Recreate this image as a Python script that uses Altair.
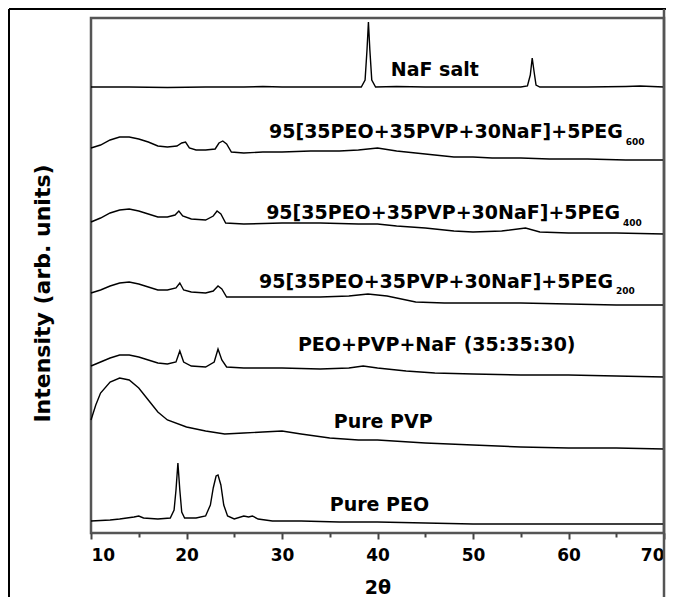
import altair as alt
import pandas as pd

# ---------------- data (2theta, intensity a.u.) ----------------
naf_x = [10, 14, 18, 22, 26, 28, 30, 34, 38.3, 38.7, 38.9, 39.05, 39.2, 39.4, 39.8, 42, 45, 50, 55, 55.7, 56.0, 56.2, 56.4, 56.6, 57, 62, 66, 67.5, 70]
naf_y = [446, 446, 445.5, 446, 446, 446.5, 446, 446, 446, 453, 483, 511, 483, 453, 446, 446.5, 446, 446, 446, 447, 458, 475, 461, 448, 446, 446, 446.5, 447, 446]

p600_x = [10, 11, 12, 13, 14, 15, 16, 17, 18, 19, 19.5, 19.9, 20.3, 21, 22, 23, 23.4, 23.8, 24.2, 24.7, 26, 28, 30, 33, 36, 38, 40, 42, 44, 46, 48, 50, 52, 55, 58, 62, 66, 70]
p600_y = [385, 388, 393, 396, 396, 394, 391, 387, 386, 387, 390, 391, 385, 383, 383, 384, 390, 392, 389, 381, 380, 381, 381, 382, 382, 383, 385, 382, 380, 378, 376, 376, 375, 375, 374, 374, 373, 373]

p400_x = [10, 11, 12, 13, 14, 15, 16, 17, 18, 18.8, 19.2, 19.6, 20.5, 22, 22.8, 23.2, 23.6, 24.1, 26, 30, 34, 38, 40, 42, 45, 48, 50, 53, 55.5, 57, 60, 65, 70]
p400_y = [311, 315, 320, 323, 324, 322, 319, 316, 316, 318, 322, 317, 314, 313, 317, 322, 319, 310, 309, 310, 310, 309, 309, 307, 305, 302, 301, 302, 305, 301, 300, 300, 299]

p200_x = [10, 11, 12, 13, 14, 15, 16, 17, 18, 18.9, 19.3, 19.7, 20.5, 22, 22.8, 23.3, 23.7, 24.2, 26, 30, 34, 37, 39, 41, 44, 47, 50, 55, 60, 65, 70]
p200_y = [240, 243, 247, 250, 251, 249, 246, 243, 243, 245, 250, 243, 241, 240, 242, 247, 244, 236, 236, 236, 236, 237, 239, 237, 231, 230, 230, 230, 229, 228, 228]

blend_x = [10, 11, 12, 13, 14, 15, 16, 17, 18, 18.9, 19.3, 19.7, 20.5, 22, 22.9, 23.3, 23.7, 24.2, 26, 30, 34, 37, 38.5, 40, 43, 46, 50, 55, 60, 65, 70]
blend_y = [167, 171, 175, 178, 178, 176, 173, 170, 169, 171, 182, 171, 167, 166, 171, 184, 173, 166, 165, 165, 164, 165, 167, 165, 162, 160, 159, 158, 158, 157, 156]

pvp_x = [10, 10.5, 11, 12, 13, 14, 15, 16, 17, 18, 20, 22, 24, 26, 28, 30, 32, 35, 38, 40, 45, 50, 55, 60, 65, 70]
pvp_y = [113, 128, 140, 151, 155, 153, 145, 133, 121, 113, 106, 102, 99, 100, 101, 102, 99, 95, 93, 93, 90, 88, 86, 85, 85, 84]

peo_x = [10, 12, 13, 14.5, 15, 15.5, 17, 18.3, 18.7, 18.9, 19.1, 19.3, 19.5, 19.8, 21, 22, 22.5, 22.8, 23.1, 23.3, 23.6, 23.9, 24.3, 25, 26, 26.5, 26.9, 27.5, 29, 32, 36, 40, 45, 50, 55, 60, 65, 70]
peo_y = [12, 13, 14, 16, 17, 15, 14, 15, 23, 43, 70, 43, 21, 15, 15, 17, 28, 45, 57, 58, 48, 28, 17, 14, 17, 16, 17, 14, 12, 12, 11, 11, 10, 9, 9, 9, 9, 9]

series = [
    ("NaF salt", naf_x, naf_y),
    ("PEG600", p600_x, p600_y),
    ("PEG400", p400_x, p400_y),
    ("PEG200", p200_x, p200_y),
    ("PEO+PVP+NaF", blend_x, blend_y),
    ("Pure PVP", pvp_x, pvp_y),
    ("Pure PEO", peo_x, peo_y),
]

x_ticks = [10, 20, 30, 40, 50, 60, 70]
x_minor = [15, 25, 35, 45, 55, 65]

# annotation texts (2theta, intensity)
center_text = ["NaF salt", "PEO+PVP+NaF (35:35:30)", "Pure PVP", "Pure PEO"]
center_tx = [46.0, 46.2, 40.6, 40.2]
center_ty = [463, 188, 111, 28]

peg_text = ["95[35PEO+35PVP+30NaF]+5PEG"] * 3
peg_tx = [65.7, 65.4, 64.66]
peg_ty = [401, 320, 251]
sub_text = ["600", "400", "200"]
sub_tx = [66.0, 65.7, 64.97]
sub_ty = [391, 310, 242]

rows = []
for name, xv, yv in series:
    for a, b in zip(xv, yv):
        rows.append({"sample": name, "theta": a, "intensity": b})
df = pd.DataFrame(rows)

W, H = 573, 515
FONT = "DejaVu Sans"

xs = alt.Scale(domain=[10, 70], nice=False)
ys = alt.Scale(domain=[0, 515], nice=False, zero=False)

y_axis = alt.Axis(title="Intensity (arb. units)", ticks=False, labels=False, domain=False, grid=False,
                  titleFont=FONT, titleFontSize=22, titleFontWeight="bold", titleColor="black",
                  titleX=-49, titleY=275, titleAngle=270, titleAlign="center", titleBaseline="middle")

lines = alt.Chart(df).mark_line(color="black", strokeWidth=1.4).encode(
    x=alt.X("theta:Q", scale=xs,
            axis=alt.Axis(values=x_ticks, title="2θ", orient="bottom", domain=False, grid=False,
                          tickSize=6, tickWidth=2, tickColor="#444", labelPadding=8,
                          labelFont=FONT, labelFontSize=17, labelFontWeight="bold", labelColor="black",
                          titleFont=FONT, titleFontSize=19, titleFontWeight="bold", titleColor="black",
                          titlePadding=15)),
    y=alt.Y("intensity:Q", scale=ys, axis=y_axis),
    detail="sample:N",
)

minor = alt.Chart(pd.DataFrame({"t": x_minor})).mark_point(opacity=0).encode(
    x=alt.X("t:Q", scale=xs,
            axis=alt.Axis(values=x_minor, labels=False, title=None, orient="bottom", domain=False, grid=False,
                          tickSize=4, tickWidth=2, tickColor="#444")),
)

ctext = alt.Chart(pd.DataFrame({"t": center_text, "x": center_tx, "y": center_ty})).mark_text(
    font=FONT, fontSize=19, fontWeight="bold", color="black", align="center", baseline="middle"
).encode(x=alt.X("x:Q", scale=xs, axis=None), y=alt.Y("y:Q", scale=ys, axis=y_axis), text="t:N")

ptext = alt.Chart(pd.DataFrame({"t": peg_text, "x": peg_tx, "y": peg_ty})).mark_text(
    font=FONT, fontSize=19, fontWeight="bold", color="black", align="right", baseline="middle"
).encode(x=alt.X("x:Q", scale=xs, axis=None), y=alt.Y("y:Q", scale=ys, axis=y_axis), text="t:N")

stext = alt.Chart(pd.DataFrame({"t": sub_text, "x": sub_tx, "y": sub_ty})).mark_text(
    font=FONT, fontSize=9, fontWeight="bold", color="black", align="left", baseline="middle"
).encode(x=alt.X("x:Q", scale=xs, axis=None), y=alt.Y("y:Q", scale=ys, axis=y_axis), text="t:N")

one = pd.DataFrame({"a": [0]})
border_left = alt.Chart(one).mark_rule(color="black", strokeWidth=2, clip=False).encode(
    x=alt.value(-82), y=alt.value(-9), y2=alt.value(H + 80))
border_top = alt.Chart(one).mark_rule(color="black", strokeWidth=2, clip=False).encode(
    x=alt.value(-82), x2=alt.value(W + 4), y=alt.value(-9))
border_right = alt.Chart(one).mark_rule(color="#555", strokeWidth=2.5, clip=False).encode(
    x=alt.value(W), y=alt.value(-9), y2=alt.value(H + 80))

chart = alt.layer(lines, minor, ctext, ptext, stext, border_left, border_top, border_right).resolve_axis(
    x="independent"
).properties(
    width=W, height=H,
    autosize=alt.AutoSizeParams(type="none"),
    padding={"left": 83, "top": 10, "right": 2, "bottom": 64},
    background="white",
).configure_view(stroke="#555", strokeWidth=2.5)

chart.save("out.html", embed_options={"renderer": "svg", "actions": False})
